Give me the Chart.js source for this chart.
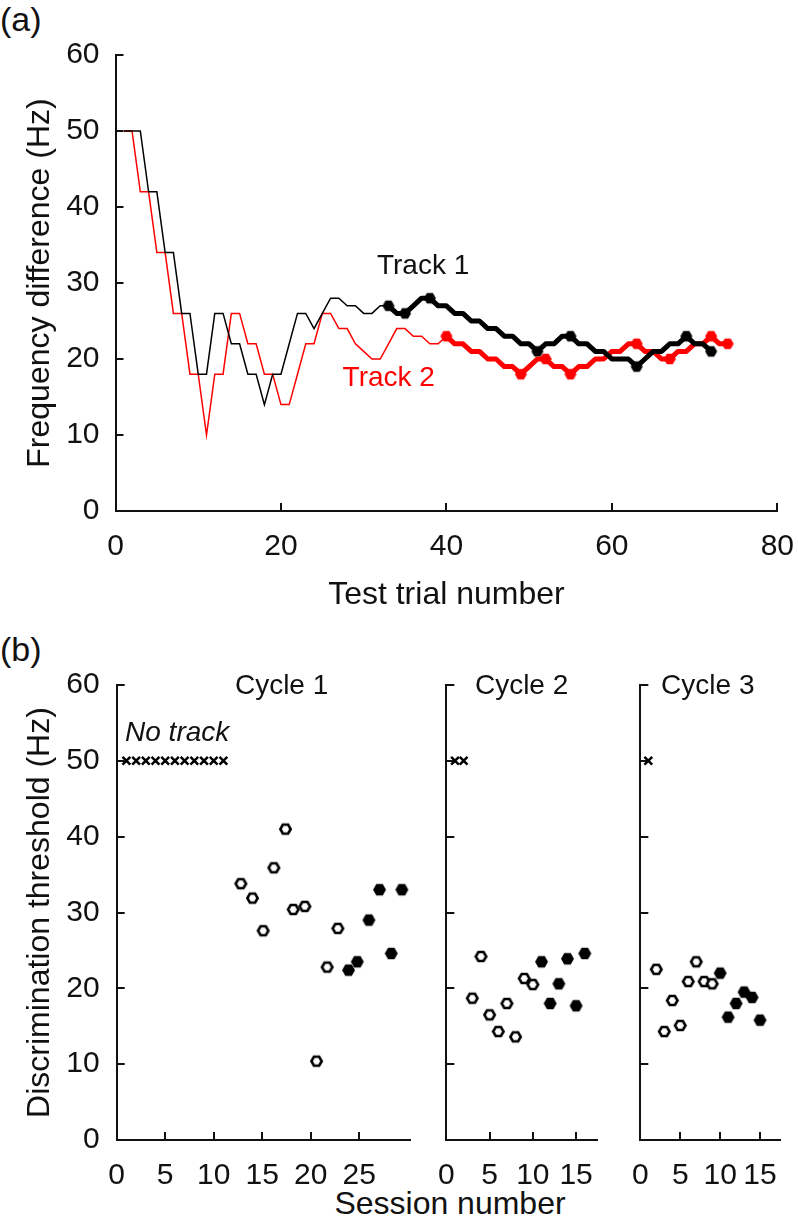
<!DOCTYPE html>
<html>
<head>
<meta charset="utf-8">
<title>Adaptive tracks and discrimination thresholds</title>
<script src="https://cdn.jsdelivr.net/npm/chart.js@4/dist/chart.umd.min.js"></script>
<style>
  html, body { margin: 0; padding: 0; background: #fff; }
  body { position: relative; width: 798px; height: 1229px; overflow: hidden;
         font-family: "Liberation Sans", Arial, sans-serif; color: #111; }
  canvas { position: absolute; }
  .tag { position: absolute; font-size: 32px; line-height: 1; white-space: nowrap; }
  .panel { font-size: 34px; }
</style>
</head>
<body>
<div class="tag panel" style="left:0;top:2px">(a)</div>
<div class="tag panel" style="left:0;top:632px">(b)</div>
<div class="tag" style="left:300px;width:300px;text-align:center;top:1187px">Session number</div>

<canvas id="trackChart" width="812" height="625" style="left:0;top:0"></canvas>
<canvas id="cycle1Chart" width="425" height="585" style="left:0;top:640px"></canvas>
<canvas id="cycle2Chart" width="190" height="585" style="left:420px;top:640px"></canvas>
<canvas id="cycle3Chart" width="180" height="585" style="left:614px;top:640px"></canvas>

<script>
// ---- (a) test trials: frequency difference per trial (Hz), trial n = index + 1 ----
const track1 = [
  50, 50, 50, 42, 42, 34, 34, 26, 26, 18,
  18, 26, 26, 22, 22, 18, 18, 14, 18, 18,
  22, 26, 26, 24, 26, 28, 28, 27, 27, 26,
  26, 27, 27, 26, 26, 27, 28, 28, 27, 27,
  26, 26, 25, 25, 24, 24, 23, 23, 22, 22,
  21, 22, 22, 23, 23, 22, 22, 21, 21, 20,
  20, 20, 19, 20, 21, 21, 22, 22, 23, 22,
  22, 21
];
const track2 = [
  50, 50, 42, 42, 34, 34, 26, 26, 18, 18,
  10, 18, 18, 26, 26, 22, 22, 18, 18, 14,
  14, 18, 22, 22, 26, 26, 24, 24, 22, 21,
  20, 20, 22, 24, 24, 23, 23, 22, 22, 23,
  22, 22, 21, 21, 20, 20, 19, 19, 18, 19,
  20, 20, 19, 19, 18, 19, 19, 20, 20, 21,
  21, 22, 22, 21, 21, 20, 20, 21, 21, 22,
  22, 23, 22, 22
];
// trials drawn with hexagons (reversals) and where the thick part starts
const track1Reversals = [33, 35, 38, 51, 55, 63, 69, 72];
const track2Reversals = [40, 49, 52, 55, 63, 67, 72, 74];
const track1ThickFrom = 33;
const track2ThickFrom = 40;
const trialTicks = [0, 20, 40, 60, 80];
const freqTicks = [0, 10, 20, 30, 40, 50, 60];

// ---- (b) thresholds per session, three cycles ----
const thresholdTicks = [0, 10, 20, 30, 40, 50, 60];
const noTrackValue = 50;

const cycle1Ticks = [0, 5, 10, 15, 20, 25];
const cycle1NoTrack = [1, 2, 3, 4, 5, 6, 7, 8, 9, 10, 11];
const cycle1OpenSessions = [12.8, 14.0, 15.1, 16.2, 17.4, 18.2, 19.4, 20.6, 21.7, 22.8];
const cycle1OpenValues = [33.8, 31.9, 27.6, 35.9, 41.0, 30.4, 30.8, 10.4, 22.8, 27.9];
const cycle1FilledSessions = [23.9, 24.8, 26.0, 27.1, 28.3, 29.4];
const cycle1FilledValues = [22.4, 23.5, 29.0, 33.0, 24.6, 33.0];

const cycle2Ticks = [0, 5, 10, 15];
const cycle2NoTrack = [1, 2];
const cycle2OpenSessions = [3, 4, 5, 6, 7, 8, 9, 10];
const cycle2OpenValues = [18.7, 24.2, 16.5, 14.3, 18.0, 13.6, 21.3, 20.5];
const cycle2FilledSessions = [11, 12, 13, 14, 15, 16];
const cycle2FilledValues = [23.5, 18.0, 20.6, 23.9, 17.7, 24.6];

const cycle3Ticks = [0, 5, 10, 15];
const cycle3NoTrack = [1];
const cycle3OpenSessions = [2, 3, 4, 5, 6, 7, 8, 9];
const cycle3OpenValues = [22.5, 14.3, 18.4, 15.1, 20.9, 23.5, 20.9, 20.6];
const cycle3FilledSessions = [10, 11, 12, 13, 14, 15];
const cycle3FilledValues = [22.0, 16.2, 18.0, 19.5, 18.8, 15.8];

// ---- look ----
const FONT = '"Liberation Sans", Arial, sans-serif';
const INK = '#111';
const RED = '#ff0000';
const TICK_LEN = 8;
const TICK_FONT = 30;
const TITLE_FONT = 32;

Chart.defaults.font.family = FONT;
Chart.defaults.color = INK;
Chart.defaults.animation = false;

// hexagon marker drawn once into a small canvas, used as pointStyle
function hexagon(r, fill, stroke, lw) {
  const size = Math.ceil(2 * r + lw + 2);
  const c = document.createElement('canvas');
  c.width = c.height = size;
  const g = c.getContext('2d');
  g.beginPath();
  for (let i = 0; i < 6; i++) {
    const a = Math.PI / 3 * i;
    const px = size / 2 + r * Math.cos(a), py = size / 2 + r * Math.sin(a);
    if (i === 0) g.moveTo(px, py); else g.lineTo(px, py);
  }
  g.closePath();
  g.fillStyle = fill;
  g.fill();
  if (lw > 0) { g.lineWidth = lw; g.strokeStyle = stroke; g.stroke(); }
  return c;
}

// short tick marks pointing into the plot, like the original
const inwardTicks = {
  id: 'inwardTicks',
  beforeDatasetsDraw(chart) {
    const { ctx, chartArea: a, scales: { x, y } } = chart;
    ctx.save();
    ctx.strokeStyle = INK;
    ctx.lineWidth = 2;
    ctx.beginPath();
    x.ticks.forEach(t => {
      const px = Math.round(x.getPixelForValue(t.value));
      ctx.moveTo(px, a.bottom); ctx.lineTo(px, a.bottom - TICK_LEN);
    });
    y.ticks.forEach(t => {
      const py = Math.round(y.getPixelForValue(t.value));
      ctx.moveTo(a.left, py); ctx.lineTo(a.left + TICK_LEN, py);
    });
    ctx.stroke();
    ctx.restore();
  }
};

// text placed in data coordinates
function notes(items) {
  return {
    id: 'notes',
    afterDatasetsDraw(chart) {
      const { ctx, scales: { x, y } } = chart;
      ctx.save();
      items.forEach(it => {
        ctx.font = (it.style || '') + ' 28px ' + FONT;
        ctx.fillStyle = it.color || INK;
        ctx.textAlign = it.align || 'left';
        ctx.textBaseline = 'middle';
        ctx.fillText(it.text, x.getPixelForValue(it.x), y.getPixelForValue(it.y));
      });
      ctx.restore();
    }
  };
}

function axis(min, max, tickValues, extra) {
  const base = {
    type: 'linear', min: min, max: max,
    afterBuildTicks: s => { s.ticks = tickValues.map(v => ({ value: v })); },
    grid: { display: true, drawOnChartArea: false, drawTicks: false },
    border: { display: true, color: INK, width: 2 },
    ticks: { font: { size: TICK_FONT }, color: INK, maxRotation: 0, autoSkip: false, padding: 18 },
    title: { display: false }
  };
  return Object.assign(base, extra);
}

function pts(xs, ys) { return xs.map((v, i) => ({ x: v, y: ys[i] })); }
function trackPts(values, from, to) {
  return values.slice(from - 1, to).map((v, i) => ({ x: from + i, y: v }));
}

// ---------------- (a) ----------------
const hexBlackA = hexagon(6, '#000', '#000', 0);
const hexRedA = hexagon(6, RED, RED, 0);

new Chart(document.getElementById('trackChart'), {
  type: 'scatter',
  data: {
    datasets: [
      { data: trackPts(track1, 1, track1ThickFrom), showLine: true, borderColor: '#000', borderWidth: 1.5, pointRadius: 0 },
      { data: trackPts(track2, 1, track2ThickFrom), showLine: true, borderColor: RED, borderWidth: 1.5, pointRadius: 0 },
      { data: trackPts(track1, track1ThickFrom, track1.length), showLine: true, borderColor: '#000', borderWidth: 5, pointRadius: 0, borderCapStyle: 'round', borderJoinStyle: 'round' },
      { data: trackPts(track2, track2ThickFrom, track2.length), showLine: true, borderColor: RED, borderWidth: 5, pointRadius: 0, borderCapStyle: 'round', borderJoinStyle: 'round' },
      { data: track1Reversals.map(t => ({ x: t, y: track1[t - 1] })), pointStyle: hexBlackA, pointRadius: 6 },
      { data: track2Reversals.map(t => ({ x: t, y: track2[t - 1] })), pointStyle: hexRedA, pointRadius: 6 }
    ]
  },
  options: {
    responsive: false,
    devicePixelRatio: 1,
    layout: { padding: { top: 55, right: 28, bottom: 0, left: 0 } },
    plugins: { legend: { display: false }, tooltip: { enabled: false } },
    scales: {
      x: axis(0, 80, trialTicks, {
        afterFit: s => { s.height = 114; },
        title: { display: true, text: 'Test trial number', color: INK, font: { size: TITLE_FONT }, padding: { top: 0, bottom: 11 } }
      }),
      y: axis(0, 60, freqTicks, {
        afterFit: s => { s.width = 115.5; },
        ticks: { font: { size: TICK_FONT }, color: INK, padding: 16 },
        title: { display: true, text: 'Frequency difference (Hz)', color: INK, font: { size: TITLE_FONT }, padding: { top: 21, bottom: 0 } }
      })
    }
  },
  plugins: [inwardTicks, notes([
    { text: 'Track 1', x: 31.6, y: 32.2 },
    { text: 'Track 2', x: 27.45, y: 17.4, color: RED }
  ])]
});

// ---------------- (b) ----------------
const hexOpen = hexagon(5.2, '#fff', '#000', 2.6);
const hexFilled = hexagon(6.5, '#000', '#000', 0);

function cycleChart(id, o) {
  const yOpts = o.first
    ? {
        afterFit: s => { s.width = o.yWidth; },
        ticks: { font: { size: TICK_FONT }, color: INK, padding: 17 },
        title: { display: true, text: 'Discrimination threshold (Hz)', color: INK, font: { size: TITLE_FONT }, padding: { top: 21, bottom: 0 } }
      }
    : {
        afterFit: s => { s.width = o.yWidth; },
        ticks: { display: false }
      };
  return new Chart(document.getElementById(id), {
    type: 'scatter',
    data: {
      datasets: [
        { data: o.noTrack.map(s => ({ x: s, y: noTrackValue })), pointStyle: 'crossRot', pointRadius: 5.5, borderWidth: 2.5, borderColor: '#000', clip: false },
        { data: pts(o.openX, o.openY), pointStyle: hexOpen, pointRadius: 6, clip: false },
        { data: pts(o.filledX, o.filledY), pointStyle: hexFilled, pointRadius: 6, clip: false }
      ]
    },
    options: {
      responsive: false,
      devicePixelRatio: 1,
      layout: { padding: { top: 45, right: o.padRight, bottom: 0, left: 0 } },
      plugins: { legend: { display: false }, tooltip: { enabled: false } },
      scales: {
        x: axis(0, o.xMax, o.ticks, { afterFit: s => { s.height = 85; } }),
        y: axis(0, 60, thresholdTicks, yOpts)
      }
    },
    plugins: [inwardTicks, notes(o.notes)]
  });
}

cycleChart('cycle1Chart', {
  first: true, yWidth: 116.7, padRight: 14.4, xMax: 30.3, ticks: cycle1Ticks,
  noTrack: cycle1NoTrack,
  openX: cycle1OpenSessions, openY: cycle1OpenValues,
  filledX: cycle1FilledSessions, filledY: cycle1FilledValues,
  notes: [
    { text: 'Cycle 1', x: 17.0, y: 59.8, align: 'center' },
    { text: 'No track', x: 0.86, y: 53.6, style: 'italic' }
  ]
});
cycleChart('cycle2Chart', {
  first: false, yWidth: 11.7, padRight: 9, xMax: 17.5, ticks: cycle2Ticks,
  noTrack: cycle2NoTrack,
  openX: cycle2OpenSessions, openY: cycle2OpenValues,
  filledX: cycle2FilledSessions, filledY: cycle2FilledValues,
  notes: [{ text: 'Cycle 2', x: 8.7, y: 59.8, align: 'center' }]
});
cycleChart('cycle3Chart', {
  first: false, yWidth: 11.7, padRight: 9.7, xMax: 17.6, ticks: cycle3Ticks,
  noTrack: cycle3NoTrack,
  openX: cycle3OpenSessions, openY: cycle3OpenValues,
  filledX: cycle3FilledSessions, filledY: cycle3FilledValues,
  notes: [{ text: 'Cycle 3', x: 8.45, y: 59.8, align: 'center' }]
});
</script>
</body>
</html>
